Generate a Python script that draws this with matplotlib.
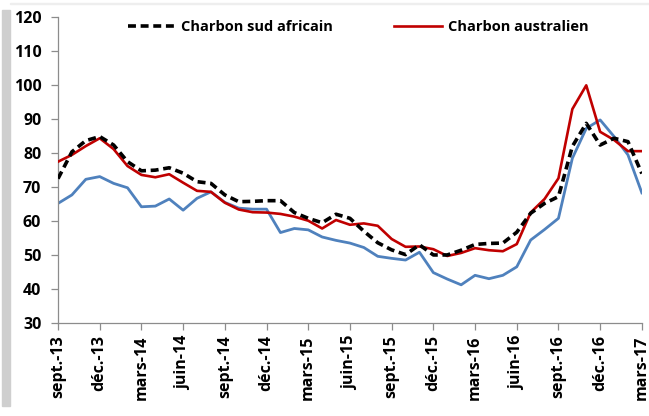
import matplotlib
matplotlib.use("Agg")
import matplotlib.pyplot as plt
from matplotlib.patches import Rectangle

# monthly prices, sept-13 .. mars-17
months = ["sept.-13", "oct.-13", "nov.-13", "déc.-13", "janv.-14", "févr.-14", "mars-14",
          "avr.-14", "mai-14", "juin-14", "juil.-14", "août-14", "sept.-14", "oct.-14",
          "nov.-14", "déc.-14", "janv.-15", "févr.-15", "mars-15", "avr.-15", "mai-15",
          "juin-15", "juil.-15", "août-15", "sept.-15", "oct.-15", "nov.-15", "déc.-15",
          "janv.-16", "févr.-16", "mars-16", "avr.-16", "mai-16", "juin-16", "juil.-16",
          "août-16", "sept.-16", "oct.-16", "nov.-16", "déc.-16", "janv.-17", "févr.-17",
          "mars-17"]

sud_africain = [72.5, 80.4, 83.7, 84.9, 82.4, 77.5, 74.8, 75.0, 75.7, 74.1, 71.6, 71.1,
                67.7, 65.7, 65.8, 66.0, 66.0, 62.5, 60.8, 59.5, 62.0, 60.8, 57.0, 53.6,
                51.5, 50.1, 53.0, 50.0, 50.0, 51.4, 53.1, 53.4, 53.5, 56.7, 62.3, 65.2,
                67.2, 82.0, 88.8, 82.4, 84.4, 83.4, 74.0]

australien = [77.5, 79.5, 82.1, 84.4, 81.2, 76.2, 73.6, 72.9, 73.8, 71.3, 68.9, 68.6,
              65.4, 63.4, 62.6, 62.5, 62.1, 61.3, 60.1, 57.8, 60.3, 58.9, 59.3, 58.6,
              54.7, 52.4, 52.5, 51.7, 49.7, 50.6, 52.0, 51.4, 51.1, 53.2, 62.5, 66.5,
              72.6, 93.0, 100.0, 86.3, 83.9, 80.6, 80.6]

troisieme = [65.2, 67.7, 72.3, 73.1, 71.1, 69.8, 64.2, 64.4, 66.5, 63.2, 66.7, 68.6,
             65.5, 63.8, 63.5, 63.5, 56.6, 57.8, 57.4, 55.3, 54.3, 53.5, 52.2, 49.6,
             49.0, 48.5, 50.8, 44.8, 42.9, 41.2, 44.0, 43.0, 44.0, 46.5, 54.4, 57.5,
             60.8, 78.5, 87.3, 89.8, 84.9, 79.5, 68.3]

yticks = list(range(30, 121, 10))

plt.rcParams["font.family"] = ["Open Sans", "DejaVu Sans"]
plt.rcParams["font.weight"] = "bold"

fig = plt.figure(figsize=(6.49, 4.16), dpi=100)
ax = fig.add_axes([0.0894, 0.224, 0.8996, 0.734])

# faint chart-frame shadow (Excel style)
fig.patches.append(Rectangle((0.003, 0.025), 0.012, 0.95, transform=fig.transFigure,
                             color="#cfcfcf", zorder=0))
fig.patches.append(Rectangle((0.015, 0.99), 0.985, 0.003, transform=fig.transFigure,
                             color="#eeeeee", zorder=0))

x = list(range(len(months)))
ax.plot(x, troisieme, color="#4F81BD", lw=2.0, zorder=2)
ax.plot(x, australien, color="#C00000", lw=1.9, zorder=3, label="Charbon australien")
ax.plot(x, sud_africain, color="black", lw=2.6, ls=(0, (2.2, 1.3)), zorder=4,
        label="Charbon sud africain")

ax.set_xlim(0, len(months) - 1)
ax.set_ylim(30, 120)
ax.set_yticks(yticks)
ax.set_xticks(x[::3])
ax.set_xticklabels(months[::3], rotation=90, fontsize=11.5, fontweight="bold")
for t in ax.get_yticklabels():
    t.set_fontsize(11.5)
    t.set_fontweight("bold")

for side in ("top", "right"):
    ax.spines[side].set_visible(False)
for side in ("left", "bottom"):
    ax.spines[side].set_color("#8c8c8c")
    ax.spines[side].set_linewidth(0.9)
ax.tick_params(axis="both", direction="out", length=5, color="#8c8c8c", width=0.9)
ax.tick_params(axis="x", pad=4)
ax.tick_params(axis="y", pad=7)

handles, labels = ax.get_legend_handles_labels()
order = [1, 0]
ax.legend([handles[i] for i in order], [labels[i] for i in order],
          loc="center", bbox_to_anchor=(0.514, 0.968), ncol=2, frameon=False,
          handlelength=3.3, handletextpad=0.35, columnspacing=4.2,
          prop={"weight": "bold", "size": 10.5})

fig.savefig("out.png", dpi=100, facecolor="white")
